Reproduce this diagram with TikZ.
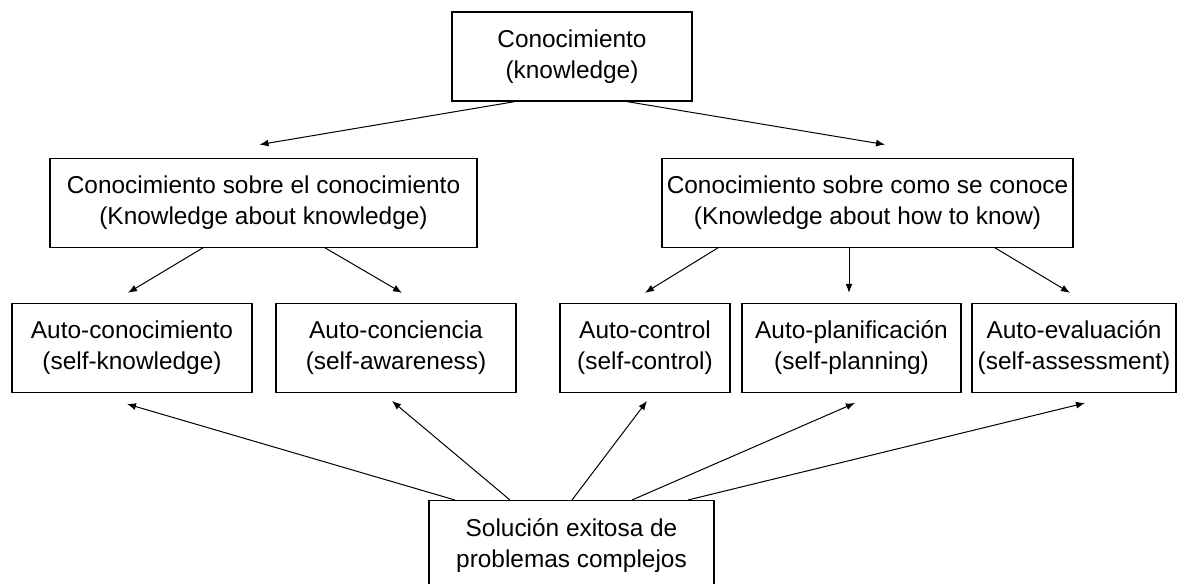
\documentclass[tikz,border=0pt]{standalone}
\usepackage{fontspec}
\setmainfont{Liberation Sans}
\usetikzlibrary{arrows.meta, positioning}

\begin{document}
\begin{tikzpicture}[
    node distance=28pt,
    every node/.style={font=\fontsize{12.2}{15.5}\selectfont},
    box/.style={rectangle, draw, line width=0.6pt, minimum height=44.5pt, align=center, inner sep=2pt},
    arrow/.style={-{Latex[length=4.5pt,width=3.5pt]}, line width=0.5pt}
]
\useasboundingbox (0,0) rectangle (590pt,-292pt);
\node[box, minimum width=120pt] (know) at (286pt,-28.25pt) {Conocimiento\\(knowledge)};
\node[box, minimum width=213.5pt, below=28pt of know, xshift=-154.25pt] (kk) {Conocimiento sobre el conocimiento\\(Knowledge about knowledge)};
\node[box, minimum width=205.5pt, below=28pt of know, xshift=147.75pt] (kh) {Conocimiento sobre como se conoce\\(Knowledge about how to know)};
\node[box, minimum width=120pt, below=27.5pt of kk, xshift=-65.75pt] (sk) {Auto-conocimiento\\(self-knowledge)};
\node[box, minimum width=120pt, below=27.5pt of kk, xshift=66.25pt] (sa) {Auto-conciencia\\(self-awareness)};
\node[box, minimum width=85pt, below=27.5pt of kh, xshift=-111.25pt] (sc) {Auto-control\\(self-control)};
\node[box, minimum width=109.5pt, below=27.5pt of kh, xshift=-8pt] (sp) {Auto-planificación\\(self-planning)};
\node[box, minimum width=102pt, below=27.5pt of kh, xshift=103.25pt] (se) {Auto-evaluación\\(self-assessment)};
\node[box, minimum width=142.5pt, below=53.5pt of sc, xshift=-36.75pt] (sol) {Solución exitosa de\\problemas complejos};

\draw[arrow] ([xshift=-28.5pt]know.south) -- ([xshift=-2pt,yshift=6.5pt]kk.north);
\draw[arrow] ([xshift=27.5pt]know.south) -- ([xshift=8.75pt,yshift=6.5pt]kh.north);
\draw[arrow] ([xshift=-30.25pt]kk.south) -- ([xshift=-2pt,yshift=5pt]sk.north);
\draw[arrow] ([xshift=30.75pt]kk.south) -- ([xshift=3pt,yshift=5pt]sa.north);
\draw[arrow] ([xshift=-74.75pt]kh.south) -- ([yshift=5pt]sc.north);
\draw[arrow] ([xshift=-9.25pt]kh.south) -- ([xshift=-1.25pt,yshift=5pt]sp.north);
\draw[arrow] ([xshift=63.75pt]kh.south) -- ([xshift=-2pt,yshift=5pt]se.north);

\draw[arrow] ([xshift=-58.25pt]sol.north) -- ([xshift=-2.5pt,yshift=-5.5pt]sk.south);
\draw[arrow] ([xshift=-30.75pt]sol.north) -- ([xshift=-2pt,yshift=-4pt]sa.south);
\draw[arrow] ([xshift=0.25pt]sol.north) -- ([xshift=1pt,yshift=-4pt]sc.south);
\draw[arrow] ([xshift=30.25pt]sol.north) -- ([xshift=1.75pt,yshift=-5pt]sp.south);
\draw[arrow] ([xshift=58.25pt]sol.north) -- ([xshift=5.5pt,yshift=-5pt]se.south);
\end{tikzpicture}
\end{document}
